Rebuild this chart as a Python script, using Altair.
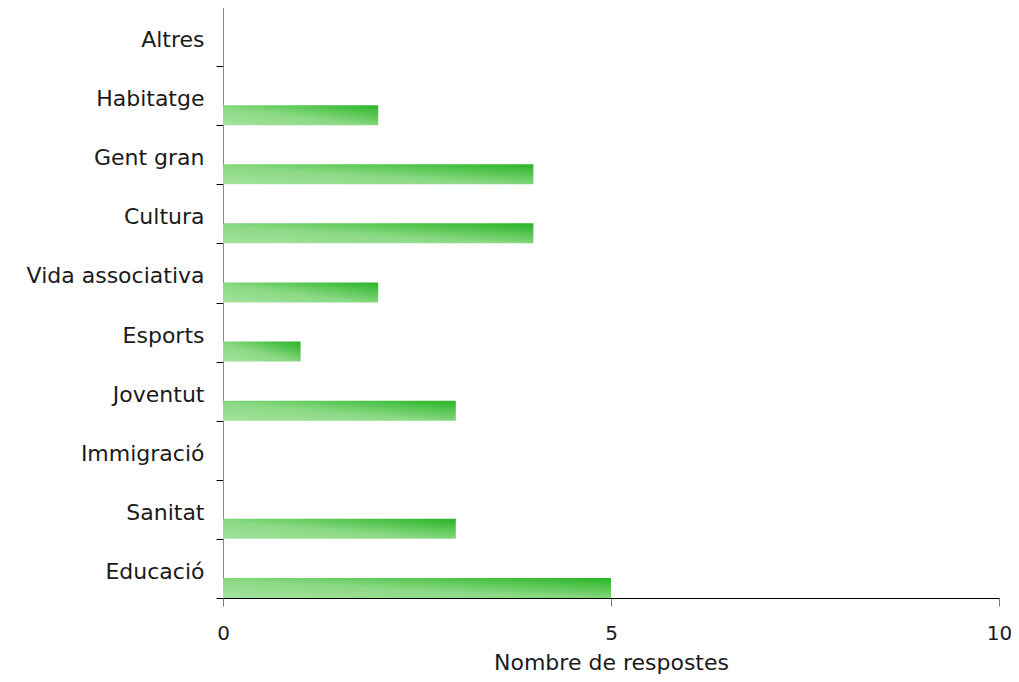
import altair as alt
import pandas as pd

categories = ["Altres", "Habitatge", "Gent gran", "Cultura", "Vida associativa",
              "Esports", "Joventut", "Immigració", "Sanitat", "Educació"]
values = [0, 2, 4, 4, 2, 1, 3, 0, 3, 5]

df = pd.DataFrame({"cat": categories, "n": values})

FONT = "DejaVu Sans"

gradient = {
    "gradient": "linear",
    "x1": 0, "y1": 1, "x2": 1, "y2": 0,
    "stops": [
        {"offset": 0, "color": "#a3e29d"},
        {"offset": 0.45, "color": "#8ad983"},
        {"offset": 1, "color": "#27b425"},
    ],
}

chart = alt.Chart(df).mark_bar(
    height=20, yOffset=19.5, color=gradient
).encode(
    x=alt.X("n:Q", scale=alt.Scale(domain=[0, 10], nice=False),
            axis=alt.Axis(values=[0, 5, 10], title="Nombre de respostes", grid=False,
                          domainColor="#000000", tickColor="#777777", tickSize=8,
                          labelFontSize=20, labelFont=FONT, labelColor="#1a1a1a",
                          labelFlush=False, labelPadding=17, titleFontSize=22,
                          titleFont=FONT, titleFontWeight="normal",
                          titleColor="#1a1a1a", titlePadding=9)),
    y=alt.Y("cat:N", sort=categories,
            scale=alt.Scale(paddingInner=0, paddingOuter=0),
            axis=alt.Axis(title=None, tickBand="extent", grid=False,
                          domainColor="#888888", tickColor="#000000", tickSize=7,
                          labelFontSize=22, labelFont=FONT, labelColor="#1a1a1a",
                          labelPadding=12, labelBaseline="middle", labelOffset=3)),
).properties(
    width=776, height=591,
    autosize=alt.AutoSizeParams(type="none"),
    padding={"left": 215, "top": -1, "right": 12, "bottom": 82},
).configure_view(stroke=None)

chart.save("out.html", embed_options={"renderer": "svg", "actions": False})
